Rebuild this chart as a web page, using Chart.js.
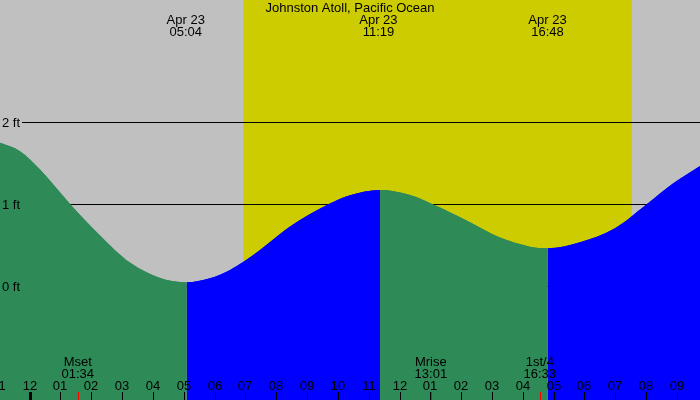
<!DOCTYPE html>
<html>
<head>
<meta charset="utf-8">
<script src="https://cdn.jsdelivr.net/npm/chart.js@4/dist/chart.umd.min.js"></script>
<style>
  html, body { margin: 0; padding: 0; background: #c0c0c0; }
  #wrap { width: 700px; height: 400px; position: relative; }
</style>
</head>
<body>
<div id="wrap"><canvas id="tide-graph"></canvas></div>
<script>
const stationName = "Johnston Atoll, Pacific Ocean";
const dayLabel = "Apr 23";

// tide height (ft), x in hours from midnight
const tideHours = [-0.957, -0.308, 0.341, 1.314, 2.287, 3.259, 4.233, 5.098,
  5.854, 6.503, 7.476, 8.449, 9.691, 10.395, 11.368,
  12.341, 13.314, 14.287, 15.259, 16.232, 16.807,
  17.855, 18.99, 20.017, 20.88, 21.746];
const tideFeet = [1.748, 1.646, 1.422, 1.004, 0.62, 0.288, 0.101, 0.049,
  0.098, 0.199, 0.443, 0.727, 1.0, 1.11, 1.174,
  1.113, 0.959, 0.78, 0.593, 0.483, 0.463,
  0.537, 0.707, 1.0, 1.256, 1.467];

const tideTimes = ["05:04", "11:19", "16:48"];
const sunTimes = ["06:56", "19:32"];
const moonNames = ["Mset", "Mrise", "1st/4"];
const moonTimes = ["01:34", "13:01", "16:33"];

const hourLabels = ["11", "12", "01", "02", "03", "04", "05", "06", "07", "08", "09", "10",
  "11", "12", "01", "02", "03", "04", "05", "06", "07", "08", "09"];
const firstHour = -1;
const midnightHours = [0];

const yTicks = [0, 1, 2];
const yLabels = ["0 ft", "1 ft", "2 ft"];

const toHours = function (t) {
  var p = t.split(":");
  return +p[0] + p[1] / 60;
};

const FONT = "13px 'Liberation Sans', Arial, sans-serif";

const tideDecor = {
  id: "tideDecor",
  beforeDraw(chart) {
    const ctx = chart.ctx;
    const x = chart.scales.x;
    const y = chart.scales.y;
    ctx.save();
    ctx.fillStyle = "#c0c0c0";
    ctx.fillRect(0, 0, chart.width, chart.height);
    var x0 = x.getPixelForValue(toHours(sunTimes[0]));
    var x1 = x.getPixelForValue(toHours(sunTimes[1]));
    ctx.fillStyle = "#cccc00";
    ctx.fillRect(x0, 0, x1 - x0, chart.height);
    // depth lines sit behind the water
    ctx.strokeStyle = "#000";
    ctx.lineWidth = 1;
    yTicks.forEach(function (v) {
      var py = Math.round(y.getPixelForValue(v)) + 0.5;
      ctx.beginPath();
      ctx.moveTo(22, py);
      ctx.lineTo(chart.width, py);
      ctx.stroke();
    });
    ctx.restore();
  },
  afterDatasetsDraw(chart) {
    const ctx = chart.ctx;
    const x = chart.scales.x;
    const y = chart.scales.y;
    const h = chart.height;
    ctx.save();
    ctx.font = FONT;
    ctx.fillStyle = "#000";
    ctx.textBaseline = "alphabetic";

    ctx.textAlign = "left";
    yTicks.forEach(function (v, i) {
      ctx.fillText(yLabels[i], 2, Math.round(y.getPixelForValue(v)) + 5);
    });

    ctx.textAlign = "center";
    ctx.fillText(stationName, chart.width / 2, 12);

    tideTimes.forEach(function (t) {
      var px = x.getPixelForValue(toHours(t));
      ctx.fillText(dayLabel, px, 24);
      ctx.fillText(t, px, 36);
    });

    moonTimes.forEach(function (t, i) {
      var px = x.getPixelForValue(toHours(t));
      ctx.fillText(moonNames[i], px, 366);
      ctx.fillText(t, px, 378);
      ctx.fillStyle = "#ff0000";
      ctx.fillRect(Math.round(px), h - 8, 1, 8);
      ctx.fillStyle = "#000";
    });

    hourLabels.forEach(function (lab, i) {
      var hr = firstHour + i;
      var px = Math.round(x.getPixelForValue(hr));
      ctx.fillText(lab, px, 390);
      if (midnightHours.indexOf(hr) >= 0) {
        ctx.fillRect(px - 1, h - 8, 3, 8);
      } else {
        ctx.fillRect(px, h - 8, 1, 8);
      }
    });
    ctx.restore();
  },
};

var tidePoints = tideHours.map(function (hr, i) {
  return { x: hr, y: tideFeet[i] };
});

// falling water green, rising water blue
var waterColor = function (ctx) {
  return ctx.p1.parsed.y > ctx.p0.parsed.y ? "#0000ff" : "#2e8b57";
};

var waterSet = function (label) {
  return {
    label: label,
    data: tidePoints,
    fill: "start",
    borderWidth: 0,
    pointRadius: 0,
    cubicInterpolationMode: "monotone",
    backgroundColor: "#2e8b57",
    segment: { backgroundColor: waterColor },
  };
};

const tideChart = new Chart(document.getElementById("tide-graph"), {
  type: "line",
  data: {
    // second copy underneath hides the seams between colour changes
    datasets: [waterSet("Tide"), waterSet("Tide under")],
  },
  options: {
    animation: false,
    responsive: true,
    maintainAspectRatio: false,
    layout: { padding: 0 },
    plugins: {
      legend: { display: false },
      tooltip: { enabled: false },
      title: { display: false },
    },
    scales: {
      x: { type: "linear", min: -0.957, max: 21.746, display: false },
      y: { type: "linear", min: -1.387, max: 3.49, display: false },
    },
  },
  plugins: [tideDecor],
});
</script>
</body>
</html>
